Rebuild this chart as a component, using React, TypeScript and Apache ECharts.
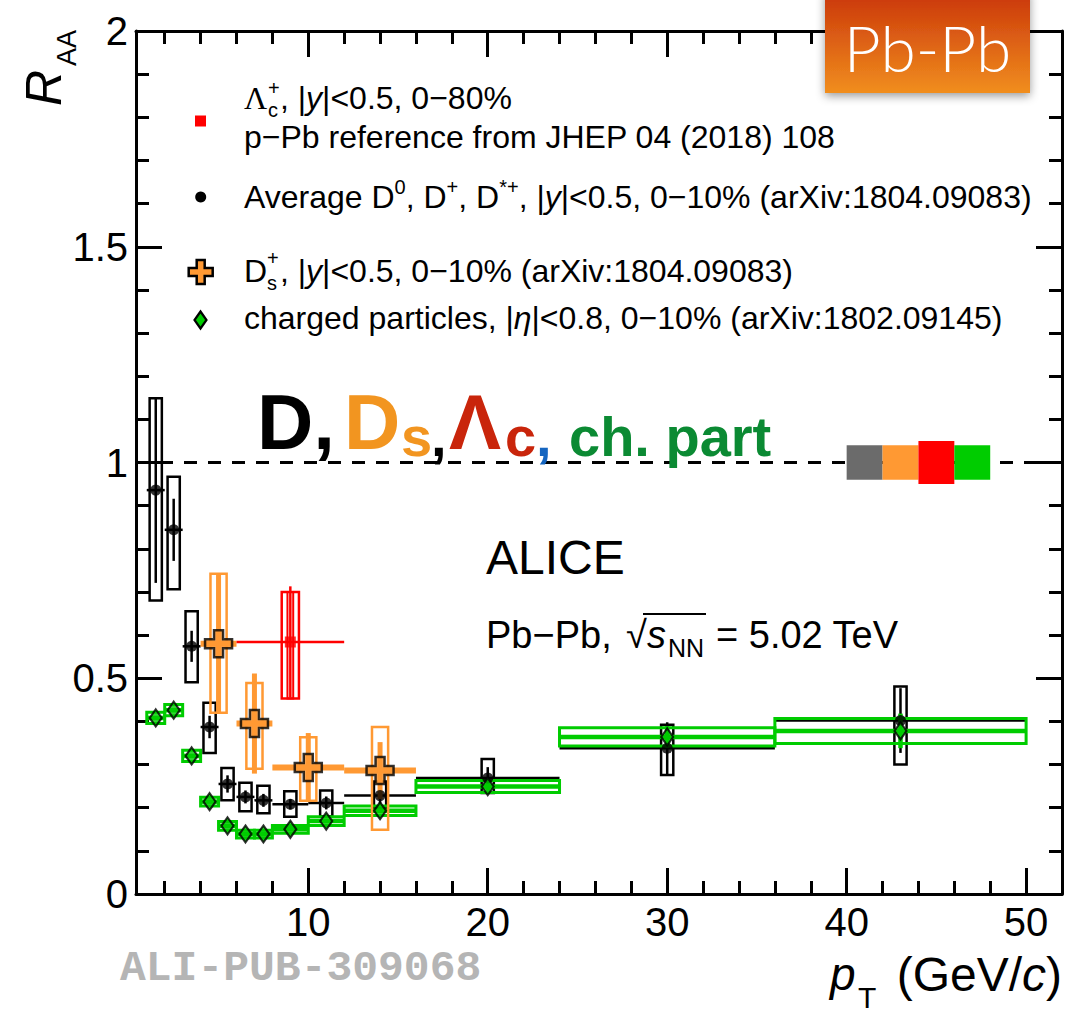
import React, { useEffect, useRef } from 'react';
import * as echarts from 'echarts';

// ---------- axis ticks ----------
const X_MIN = 0.4;
const X_MAX = 52;
const Y_MIN = 0;
const Y_MAX = 2;
const xMajorTicks = [10, 20, 30, 40, 50];
const xMinorTicks = [2, 4, 6, 8, 12, 14, 16, 18, 22, 24, 26, 28, 32, 34, 36, 38, 42, 44, 46, 48];
const yMajorTicks = [0, 0.5, 1, 1.5, 2];
const yMinorTicks = [0.1, 0.2, 0.3, 0.4, 0.6, 0.7, 0.8, 0.9, 1.1, 1.2, 1.3, 1.4, 1.6, 1.7, 1.8, 1.9];

// ---------- Average D0, D+, D*+ (0-10%) ----------
const dPt = [1.5, 2.5, 3.5, 4.5, 5.5, 6.5, 7.5, 9, 11, 14, 20, 30, 43];
const dBinLo = [1, 2, 3, 4, 5, 6, 7, 8, 10, 12, 16, 24, 36];
const dBinHi = [2, 3, 4, 5, 6, 7, 8, 10, 12, 16, 24, 36, 50];
const dRaa = [0.936, 0.844, 0.574, 0.387, 0.255, 0.225, 0.217, 0.208, 0.211, 0.228, 0.269, 0.338, 0.402];
const dStat = [0.215, 0.072, 0.036, 0.026, 0.02, 0.015, 0.015, 0.012, 0.015, 0.02, 0.025, 0.06, 0.075];
const dSysLo = [0.68, 0.706, 0.491, 0.327, 0.217, 0.192, 0.187, 0.179, 0.18, 0.2, 0.234, 0.276, 0.3];
const dSysHi = [1.149, 0.967, 0.655, 0.443, 0.292, 0.258, 0.251, 0.238, 0.24, 0.261, 0.313, 0.392, 0.481];

// ---------- Ds+ (0-10%) ----------
const dsPt = [5, 7, 10, 14];
const dsBinLo = [4, 6, 8, 12];
const dsBinHi = [6, 8, 12, 16];
const dsRaa = [0.58, 0.395, 0.293, 0.286];
const dsStat = [0.16, 0.116, 0.08, 0.066];
const dsSysLo = [0.42, 0.29, 0.216, 0.149];
const dsSysHi = [0.742, 0.489, 0.363, 0.387];

// ---------- Lambda_c+ (0-80%) ----------
const lcPt = [9];
const lcBinLo = [6];
const lcBinHi = [12];
const lcRaa = [0.584];
const lcStat = [0.129];
const lcSysLo = [0.453];
const lcSysHi = [0.7];

// ---------- charged particles (0-10%) ----------
const chPt = [1.5, 2.5, 3.5, 4.5, 5.5, 6.5, 7.5, 9, 11, 14, 20, 30, 43];
const chBinLo = [1, 2, 3, 4, 5, 6, 7, 8, 10, 12, 16, 24, 36];
const chBinHi = [2, 3, 4, 5, 6, 7, 8, 10, 12, 16, 24, 36, 50];
const chRaa = [0.408, 0.426, 0.32, 0.214, 0.158, 0.139, 0.139, 0.15, 0.169, 0.193, 0.249, 0.364, 0.378];
const chStat = [0.004, 0.004, 0.004, 0.003, 0.003, 0.003, 0.003, 0.003, 0.004, 0.005, 0.01, 0.025, 0.04];
const chSys = [0.013, 0.013, 0.013, 0.01, 0.01, 0.009, 0.009, 0.009, 0.01, 0.011, 0.014, 0.021, 0.029];

// ---------- normalisation uncertainties at R_AA = 1 ----------
const normLo = [40, 42, 44, 46];
const normHi = [42, 44, 46, 48];
const normUnc = [0.04, 0.04, 0.05, 0.04];
const normColors = ['#6b6b6b', '#ff9933', '#ff0000', '#00cc00'];

// ---------- styles ----------
const FONT = '"Liberation Sans", Arial, Helvetica, sans-serif';
const BLACK = '#000000';
const ORANGE = '#ff9933';
const RED = '#ff0000';
const GREEN = '#00cc00';
const CROSS = 'path://M8,0 H16 V8 H24 V16 H16 V24 H8 V16 H0 V8 H8 Z';
const DIAMOND = 'path://M6,0 L12,8 L6,16 L0,8 Z';

function boxSeries(pt: number[], lo: number[], hi: number[], xl: number[], xh: number[], color: string, lw: number, z = 2) {
  return {
    type: 'custom',
    xAxisIndex: 0,
    yAxisIndex: 0,
    silent: true,
    z,
    data: pt.map((x, i) => [x, lo[i], hi[i], xl[i], xh[i]]),
    renderItem: (_p: any, api: any) => {
      const a = api.coord([api.value(3), api.value(2)]);
      const b = api.coord([api.value(4), api.value(1)]);
      return {
        type: 'rect',
        shape: { x: a[0], y: a[1], width: b[0] - a[0], height: b[1] - a[1] },
        style: { fill: 'none', stroke: color, lineWidth: lw },
      };
    },
  };
}

function barSeries(pt: number[], r: number[], binLo: number[], binHi: number[], stat: number[], color: string, hw: number, vw: number, z = 3) {
  return {
    type: 'custom',
    xAxisIndex: 0,
    yAxisIndex: 0,
    silent: true,
    z,
    data: pt.map((x, i) => [x, r[i], binLo[i], binHi[i], stat[i]]),
    renderItem: (_p: any, api: any) => {
      const x = api.value(0);
      const y = api.value(1);
      const e = api.value(4);
      const l = api.coord([api.value(2), y]);
      const rr = api.coord([api.value(3), y]);
      const t = api.coord([x, y + e]);
      const b = api.coord([x, y - e]);
      return {
        type: 'group',
        children: [
          { type: 'line', shape: { x1: l[0], y1: l[1], x2: rr[0], y2: rr[1] }, style: { stroke: color, lineWidth: hw } },
          { type: 'line', shape: { x1: t[0], y1: t[1], x2: b[0], y2: b[1] }, style: { stroke: color, lineWidth: vw } },
        ],
      };
    },
  };
}

function xAxisDef(position: string, ticks: number[], len: number, withLine: boolean, withLabel: boolean) {
  return {
    type: 'value',
    gridIndex: 0,
    position,
    min: X_MIN,
    max: X_MAX,
    axisLine: { show: withLine, onZero: false, lineStyle: { color: BLACK, width: 3 } },
    axisTick: { show: true, inside: true, length: len, customValues: ticks, lineStyle: { color: BLACK, width: 3 } },
    axisLabel: withLabel
      ? { show: true, customValues: ticks, color: BLACK, fontSize: 40, fontFamily: FONT, margin: 8 }
      : { show: false },
    splitLine: { show: false },
  };
}

function yAxisDef(position: string, ticks: number[], len: number, withLine: boolean, withLabel: boolean) {
  return {
    type: 'value',
    gridIndex: 0,
    position,
    min: Y_MIN,
    max: Y_MAX,
    axisLine: { show: withLine, onZero: false, lineStyle: { color: BLACK, width: 3 } },
    axisTick: { show: true, inside: true, length: len, customValues: ticks, lineStyle: { color: BLACK, width: 3 } },
    axisLabel: withLabel
      ? { show: true, customValues: ticks, color: BLACK, fontSize: 40, fontFamily: FONT, margin: 8 }
      : { show: false },
    splitLine: { show: false },
  };
}

function txt(x: number, y: number, text: string, fontSize: number, extra: any = {}, styleExtra: any = {}) {
  return {
    type: 'text',
    x,
    y,
    z: 50,
    silent: true,
    ...extra,
    style: {
      text,
      fontSize,
      fontFamily: FONT,
      fill: BLACK,
      align: 'left',
      verticalAlign: 'middle',
      ...styleExtra,
    },
  };
}

const LEG = 32;
const richNorm = {
  n: { fontSize: LEG, fontFamily: FONT, lineHeight: 40, verticalAlign: 'middle', fill: BLACK },
  i: { fontSize: LEG, fontFamily: FONT, fontStyle: 'italic', lineHeight: 40, verticalAlign: 'middle', fill: BLACK },
  s: { fontSize: 20, fontFamily: FONT, lineHeight: 25, verticalAlign: 'top', fill: BLACK },
};

function buildOption() {
  const markerCommon = { xAxisIndex: 0, yAxisIndex: 0, silent: true, z: 10 };
  const series: any[] = [
    {
      type: 'line',
      xAxisIndex: 0,
      yAxisIndex: 0,
      silent: true,
      z: 1,
      showSymbol: false,
      data: [[X_MIN, 1], [X_MAX, 1]],
      lineStyle: { color: BLACK, width: 3, type: [13, 11] },
    },
    {
      type: 'custom',
      xAxisIndex: 0,
      yAxisIndex: 0,
      silent: true,
      z: 2,
      data: normLo.map((l, i) => [l, normHi[i], normUnc[i], i]),
      renderItem: (_p: any, api: any) => {
        const a = api.coord([api.value(0), 1 + api.value(2)]);
        const b = api.coord([api.value(1), 1 - api.value(2)]);
        return {
          type: 'rect',
          shape: { x: a[0], y: a[1], width: b[0] - a[0], height: b[1] - a[1] },
          style: { fill: normColors[api.value(3)] },
        };
      },
    },
    // D mesons
    boxSeries(dPt, dSysLo, dSysHi, dPt.map((x) => x - 0.34), dPt.map((x) => x + 0.34), BLACK, 2.5),
    barSeries(dPt, dRaa, dBinLo, dBinHi, dStat, BLACK, 2.5, 2.5),
    // charged particles
    boxSeries(chPt, chRaa.map((r, i) => r - chSys[i]), chRaa.map((r, i) => r + chSys[i]), chBinLo, chBinHi, GREEN, 3, 4),
    barSeries(chPt, chRaa, chBinLo, chBinHi, chStat, GREEN, 4.5, 4.5, 4),
    // Ds
    boxSeries(dsPt, dsSysLo, dsSysHi, dsPt.map((x) => x - 0.45), dsPt.map((x) => x + 0.45), ORANGE, 2.5, 5),
    barSeries(dsPt, dsRaa, dsBinLo, dsBinHi, dsStat, ORANGE, 6, 5, 5),
    // Lambda_c
    boxSeries(lcPt, lcSysLo, lcSysHi, lcPt.map((x) => x - 0.48), lcPt.map((x) => x + 0.48), RED, 2.5, 5),
    boxSeries(lcPt, lcSysLo, lcSysHi, lcPt.map((x) => x - 0.16), lcPt.map((x) => x + 0.16), RED, 2, 5),
    barSeries(lcPt, lcRaa, lcBinLo, lcBinHi, lcStat, RED, 2.5, 2.5, 5),
    // markers
    {
      ...markerCommon,
      type: 'scatter',
      data: dPt.map((x, i) => [x, dRaa[i]]),
      symbol: 'circle',
      symbolSize: 11,
      itemStyle: { color: BLACK },
    },
    {
      ...markerCommon,
      type: 'scatter',
      data: chPt.map((x, i) => [x, chRaa[i]]),
      symbol: DIAMOND,
      symbolSize: [12, 17],
      itemStyle: { color: GREEN, borderColor: BLACK, borderWidth: 2.2 },
    },
    {
      ...markerCommon,
      type: 'scatter',
      data: dsPt.map((x, i) => [x, dsRaa[i]]),
      symbol: CROSS,
      symbolSize: 27,
      itemStyle: { color: ORANGE, borderColor: BLACK, borderWidth: 2.5 },
    },
    {
      ...markerCommon,
      type: 'scatter',
      data: lcPt.map((x, i) => [x, lcRaa[i]]),
      symbol: 'rect',
      symbolSize: 11,
      itemStyle: { color: RED },
    },
  ];

  const crossPts = [[-4, -12], [4, -12], [4, -4], [12, -4], [12, 4], [4, 4], [4, 12], [-4, 12], [-4, 4], [-12, 4], [-12, -4], [-4, -4]];

  const graphic: any[] = [
    // y title
    txt(44, 88, 'R', 50, { rotation: Math.PI / 2 }, { fontStyle: 'italic', align: 'center' }),
    txt(67, 48, 'AA', 27, { rotation: Math.PI / 2 }, { align: 'center' }),
    // x title
    txt(830, 974, 'p', 46, {}, { fontStyle: 'italic' }),
    txt(858, 997, 'T', 30),
    {
      type: 'text', x: 1062, y: 974, z: 50, silent: true,
      style: {
        text: '{n|(GeV/}{i|c}{n|)}', align: 'right', verticalAlign: 'middle',
        rich: {
          n: { fontSize: 48, fontFamily: FONT, fill: BLACK },
          i: { fontSize: 48, fontFamily: FONT, fontStyle: 'italic', fill: BLACK },
        },
      },
    },
    // watermark
    txt(120, 968, 'ALI-PUB-309068', 43, {}, { fontFamily: '"Liberation Mono", "DejaVu Sans Mono", monospace', fontWeight: 'bold', fill: '#b5b5b5' }),

    // legend markers
    { type: 'rect', z: 50, silent: true, shape: { x: 195, y: 115.5, width: 11, height: 11 }, style: { fill: RED } },
    { type: 'circle', z: 50, silent: true, shape: { cx: 200.7, cy: 197, r: 5.5 }, style: { fill: BLACK } },
    { type: 'polygon', z: 50, silent: true, x: 200.7, y: 272, shape: { points: crossPts }, style: { fill: ORANGE, stroke: BLACK, lineWidth: 2.5 } },
    { type: 'polygon', z: 50, silent: true, x: 200.5, y: 320, shape: { points: [[0, -8.5], [6, 0], [0, 8.5], [-6, 0]] }, style: { fill: GREEN, stroke: BLACK, lineWidth: 2.2 } },

    // legend row 1
    txt(244, 98, 'Λ', LEG, {}, { fontFamily: '"Liberation Serif", "DejaVu Serif", serif' }),
    txt(268, 88, '+', 20),
    txt(268, 110, 'c', 20),
    {
      type: 'text', x: 280, y: 98, z: 50, silent: true,
      style: { text: '{n|, |}{i|y}{n||<0.5, 0−80%}', verticalAlign: 'middle', rich: richNorm },
    },
    // legend row 2
    txt(244, 137, 'p−Pb reference from JHEP 04 (2018) 108', LEG),
    // legend row 3
    {
      type: 'text', x: 244, y: 197, z: 50, silent: true,
      style: {
        text: '{n|Average D}{s|0}{n|, D}{s|+}{n|, D}{s|*+}{n|, |}{i|y}{n||<0.5, 0−10% (arXiv:1804.09083)}',
        verticalAlign: 'middle',
        rich: richNorm,
      },
    },
    // legend row 4
    txt(244, 271, 'D', LEG),
    txt(267, 258, '+', 20),
    txt(267, 283, 's', 20),
    {
      type: 'text', x: 280, y: 271, z: 50, silent: true,
      style: { text: '{n|, |}{i|y}{n||<0.5, 0−10% (arXiv:1804.09083)}', verticalAlign: 'middle', rich: richNorm },
    },
    // legend row 5
    {
      type: 'text', x: 244, y: 318, z: 50, silent: true,
      style: { text: '{n|charged particles, |}{i|η}{n||<0.8, 0−10% (arXiv:1802.09145)}', verticalAlign: 'middle', rich: richNorm },
    },

    // big title
    txt(257, 421.5, 'D,', 78, {}, { fontWeight: 'bold' }),
    txt(344, 421.5, 'D', 78, {}, { fontWeight: 'bold', fill: '#f29520' }),
    txt(401, 436.5, 's', 56, {}, { fontWeight: 'bold', fill: '#f29520' }),
    txt(431, 436.5, ',', 56, {}, { fontWeight: 'bold' }),
    txt(449, 421.5, 'Λ', 78, {}, { fontWeight: 'bold', fill: '#c9250b' }),
    txt(505, 436.5, 'c', 56, {}, { fontWeight: 'bold', fill: '#c9250b' }),
    txt(536, 436.5, ',', 56, {}, { fontWeight: 'bold', fill: '#1565c0' }),
    txt(569, 436.5, 'ch. part', 56, {}, { fontWeight: 'bold', fill: '#0b8a33' }),

    // ALICE
    txt(486, 557, 'ALICE', 48),
    txt(486, 635, 'Pb−Pb,', 38),
    txt(626, 635, '√', 38),
    { type: 'line', z: 50, silent: true, shape: { x1: 643, y1: 614, x2: 706, y2: 614 }, style: { stroke: BLACK, lineWidth: 2 } },
    txt(647, 635, 's', 38, {}, { fontStyle: 'italic' }),
    txt(668, 648, 'NN', 25),
    txt(716, 635, '= 5.02 TeV', 38),

    // Pb-Pb badge
    {
      type: 'rect', z: 60, silent: true,
      shape: { x: 825, y: -10, width: 205, height: 103 },
      style: {
        fill: new echarts.graphic.LinearGradient(0, 0, 0, 1, [
          { offset: 0, color: '#c9340a' },
          { offset: 1, color: '#f18e1e' },
        ]),
        shadowBlur: 10,
        shadowOffsetX: 0,
        shadowOffsetY: 3,
        shadowColor: 'rgba(0,0,0,0.4)',
      },
    },
    {
      type: 'text', x: 927.5, y: 47, z: 61, silent: true,
      style: { text: 'Pb-Pb', fontSize: 64, fontFamily: 'Lato, "Open Sans", "Noto Sans", sans-serif', fontWeight: 300, fill: '#ffffff', align: 'center', verticalAlign: 'middle' },
    },
  ];

  return {
    animation: false,
    backgroundColor: '#ffffff',
    grid: { left: 136, right: 18, top: 31, bottom: 121, containLabel: false },
    xAxis: [
      xAxisDef('bottom', xMajorTicks, 26, true, true),
      xAxisDef('bottom', xMinorTicks, 13, false, false),
      xAxisDef('top', xMajorTicks, 26, true, false),
      xAxisDef('top', xMinorTicks, 13, false, false),
    ],
    yAxis: [
      yAxisDef('left', yMajorTicks, 26, true, true),
      yAxisDef('left', yMinorTicks, 13, false, false),
      yAxisDef('right', yMajorTicks, 26, true, false),
      yAxisDef('right', yMinorTicks, 13, false, false),
    ],
    series,
    graphic,
  };
}

export default function App() {
  const ref = useRef<HTMLDivElement>(null);
  useEffect(() => {
    if (!ref.current) return;
    const chart = echarts.init(ref.current, null, { renderer: 'svg' });
    chart.setOption(buildOption() as any);
    return () => chart.dispose();
  }, []);
  return (
    <div
      ref={ref}
      style={{ position: 'fixed', left: 0, top: 0, width: 1080, height: 1015, background: '#ffffff' }}
    />
  );
}
